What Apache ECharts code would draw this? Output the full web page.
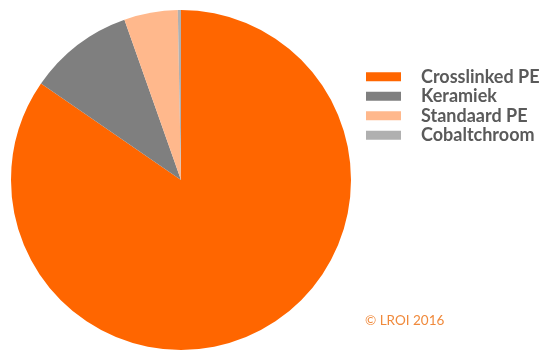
<!DOCTYPE html>
<html>
<head>
<meta charset="utf-8">
<script src="https://cdn.jsdelivr.net/npm/echarts@6/dist/echarts.min.js"></script>
<style>
html, body { margin: 0; padding: 0; background: #fff; }
#chart { width: 548px; height: 358px; }
</style>
</head>
<body>
<div id="chart"></div>
<script>
var categories = ['Crosslinked PE', 'Keramiek', 'Standaard PE', 'Cobaltchroom'];
var shares = [84.6, 10.0, 5.1, 0.3];
var colors = ['#ff6600', '#7f7f7f', '#ffb88c', '#b0b0b0'];

var pieData = categories.map(function(name, i){
	return { name: name, value: shares[i], itemStyle: { color: colors[i] } };
});

var chart = echarts.init(document.getElementById('chart'));
var option = {
	animation: false,
	legend: {
		orient: 'vertical',
		left: 366,
		top: 67,
		padding: 0,
		itemWidth: 35,
		itemHeight: 9,
		itemGap: 0,
		icon: 'rect',
		data: categories,
		textStyle: {
			fontFamily: 'Lato',
			fontSize: 18,
			fontWeight: 'bold',
			color: '#5a5a5a',
			lineHeight: 19.5,
			padding: [0, 0, 0, 15]
		}
	},
	graphic: [
		{
			type: 'text',
			left: 365,
			top: 314,
			style: {
				text: '\u00a9 LROI 2016',
				fill: '#f08a3c',
				font: '13.5px Lato'
			}
		}
	],
	series: [
		{
			type: 'pie',
			center: [181, 180],
			radius: [0, 170],
			startAngle: 90,
			clockwise: true,
			label: { show: false },
			labelLine: { show: false },
			emphasis: { disabled: true },
			data: pieData
		}
	]
};
chart.setOption(option);
window.addEventListener('resize', function(){
	chart.resize();
});
</script>
</body>
</html>
